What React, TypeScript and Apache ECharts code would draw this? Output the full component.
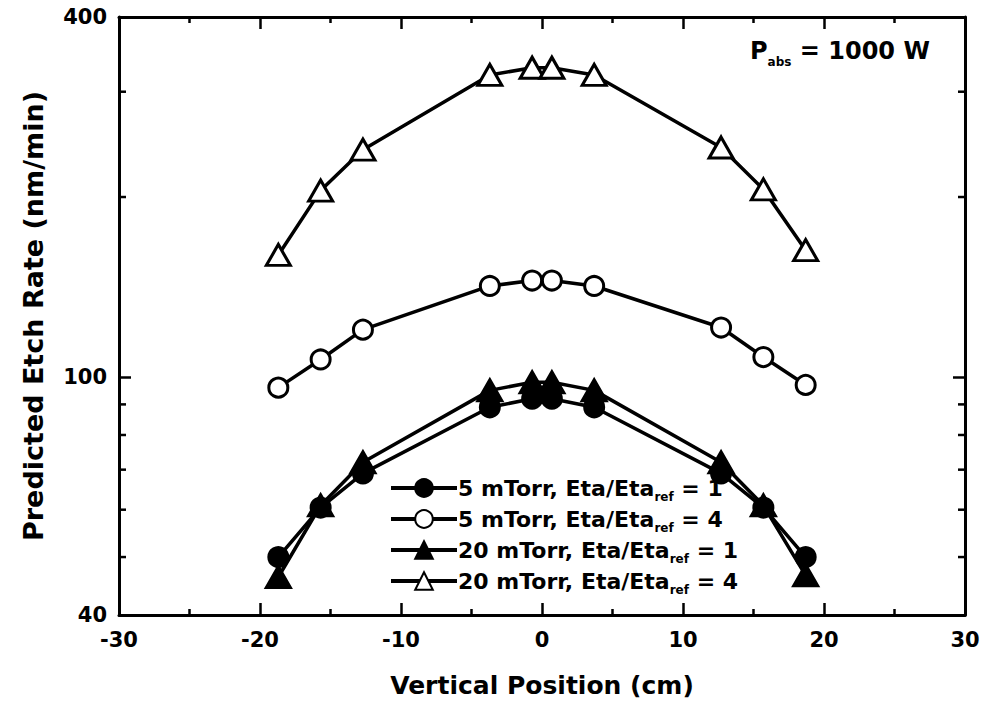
import React, { useEffect, useRef } from "react";
import * as echarts from "echarts";

const positions = [-18.7, -15.7, -12.7, -3.7, -0.7, 0.7, 3.7, 12.7, 15.7, 18.7];
const rate5mTorrEta1 = [50, 60.5, 69, 89, 92, 92, 89, 69, 60.5, 50];
const rate5mTorrEta4 = [96, 107, 120, 142, 145, 145, 142, 121, 108, 97];
const rate20mTorrEta1 = [46.3, 61, 72, 95, 98, 98, 95, 72, 61, 46.6];
const rate20mTorrEta4 = [160, 205, 240, 320, 329, 329, 320, 242, 206, 163];

const seriesNames = [
  "5 mTorr, Eta/Eta_ref = 1",
  "5 mTorr, Eta/Eta_ref = 4",
  "20 mTorr, Eta/Eta_ref = 1",
  "20 mTorr, Eta/Eta_ref = 4",
];
const yMinorTicks = [50, 60, 70, 80, 90, 200, 300];
const xTitle = "Vertical Position (cm)";
const yTitle = "Predicted Etch Rate (nm/min)";

const FONT = "'DejaVu Sans', sans-serif";

export default function App() {
  const ref = useRef<HTMLDivElement>(null);
  useEffect(() => {
    document.body.style.margin = "0";
    const chart = echarts.init(ref.current!, null, { renderer: "svg" });
    const mk = (name: string, values: number[], symbol: string, filled: boolean, size: any) => ({
      name,
      type: "line",
      data: positions.map((x, i) => [x, values[i]]),
      symbol,
      symbolSize: size,
      showSymbol: true,
      lineStyle: { color: "#000", width: 3.5 },
      itemStyle: { color: filled ? "#000" : "#fff", borderColor: "#000", borderWidth: 3 },
      z: 3,
    });
    const axisLine = { show: true, onZero: false, lineStyle: { color: "#000", width: 3 } };
    const xCommon = {
      type: "value",
      min: -30,
      max: 30,
      interval: 10,
      axisLine,
      splitLine: { show: false },
      axisTick: { show: true, inside: true, length: 12, lineStyle: { color: "#000", width: 2.5 } },
      minorTick: { show: true, splitNumber: 2, length: 6, lineStyle: { color: "#000", width: 2.5 } },
    };
    const yCommon = {
      type: "log",
      logBase: 10,
      min: 40,
      max: 400,
      axisLine,
      splitLine: { show: false },
      axisTick: { show: true, inside: true, length: 12, lineStyle: { color: "#000", width: 2.5 } },
    };
    chart.setOption({
      animation: false,
      backgroundColor: "#fff",
      grid: { left: 119, right: 21, top: 17, bottom: 99 },
      xAxis: [
        {
          ...xCommon,
          position: "bottom",
          name: xTitle,
          nameLocation: "middle",
          nameGap: 58,
          nameTextStyle: { fontFamily: FONT, fontWeight: "bold", fontSize: 25, color: "#000" },
          axisLabel: { fontFamily: FONT, fontWeight: "bold", fontSize: 21, color: "#000", margin: 14 },
        },
        { ...xCommon, position: "top", axisLabel: { show: false } },
      ],
      yAxis: [
        {
          ...yCommon,
          position: "left",
          name: yTitle,
          nameLocation: "middle",
          nameGap: 72,
          nameTextStyle: { fontFamily: FONT, fontWeight: "bold", fontSize: 27, color: "#000" },
          axisLabel: {
            fontFamily: FONT,
            fontWeight: "bold",
            fontSize: 21,
            color: "#000",
            margin: 12,
            formatter: (v: number) => String(Math.round(v)),
          },
        },
        { ...yCommon, position: "right", axisLabel: { show: false } },
      ],
      legend: {
        orient: "vertical",
        left: 384,
        top: 472,
        itemWidth: 66,
        itemHeight: 22,
        itemGap: 5,
        data: seriesNames,
        lineStyle: { width: 4 },
        formatter: (name: string) => name.replace("_ref", "{sub|ref}"),
        textStyle: {
          fontFamily: FONT,
          fontWeight: "bold",
          fontSize: 22,
          color: "#000",
          padding: [0, 0, 0, -4],
          rich: {
            sub: { fontFamily: FONT, fontWeight: "bold", fontSize: 12, color: "#000", verticalAlign: "bottom", lineHeight: 30 },
          },
        },
      },
      graphic: [
        {
          type: "text",
          left: 750,
          top: 39,
          style: {
            text: "P{sub|abs} = 1000 W",
            fontFamily: FONT,
            fontWeight: "bold",
            fontSize: 24,
            fill: "#000",
            rich: {
              sub: { fontFamily: FONT, fontWeight: "bold", fontSize: 12, fill: "#000", verticalAlign: "bottom", lineHeight: 33 },
            },
          },
        },
      ],
      series: [
        mk(seriesNames[0], rate5mTorrEta1, "circle", true, 19),
        mk(seriesNames[1], rate5mTorrEta4, "circle", false, 19),
        mk(seriesNames[2], rate20mTorrEta1, "triangle", true, [24, 21]),
        mk(seriesNames[3], rate20mTorrEta4, "triangle", false, [24, 21]),
        {
          type: "custom",
          name: "minorTicks",
          silent: true,
          clip: false,
          z: 5,
          data: yMinorTicks.map((v) => [0, v]),
          encode: { x: 0, y: 1 },
          renderItem: (params: any, api: any) => {
            const v = api.value(1);
            const pl = api.coord([-30, v]);
            const pr = api.coord([30, v]);
            const len = 7;
            const st = { stroke: "#000", lineWidth: 2.5 };
            return {
              type: "group",
              children: [
                { type: "line", shape: { x1: pl[0], y1: pl[1], x2: pl[0] + len, y2: pl[1] }, style: st },
                { type: "line", shape: { x1: pr[0] - len, y1: pr[1], x2: pr[0], y2: pr[1] }, style: st },
              ],
            };
          },
        },
      ],
    });
    return () => chart.dispose();
  }, []);
  return <div ref={ref} style={{ width: 986, height: 714 }} />;
}
